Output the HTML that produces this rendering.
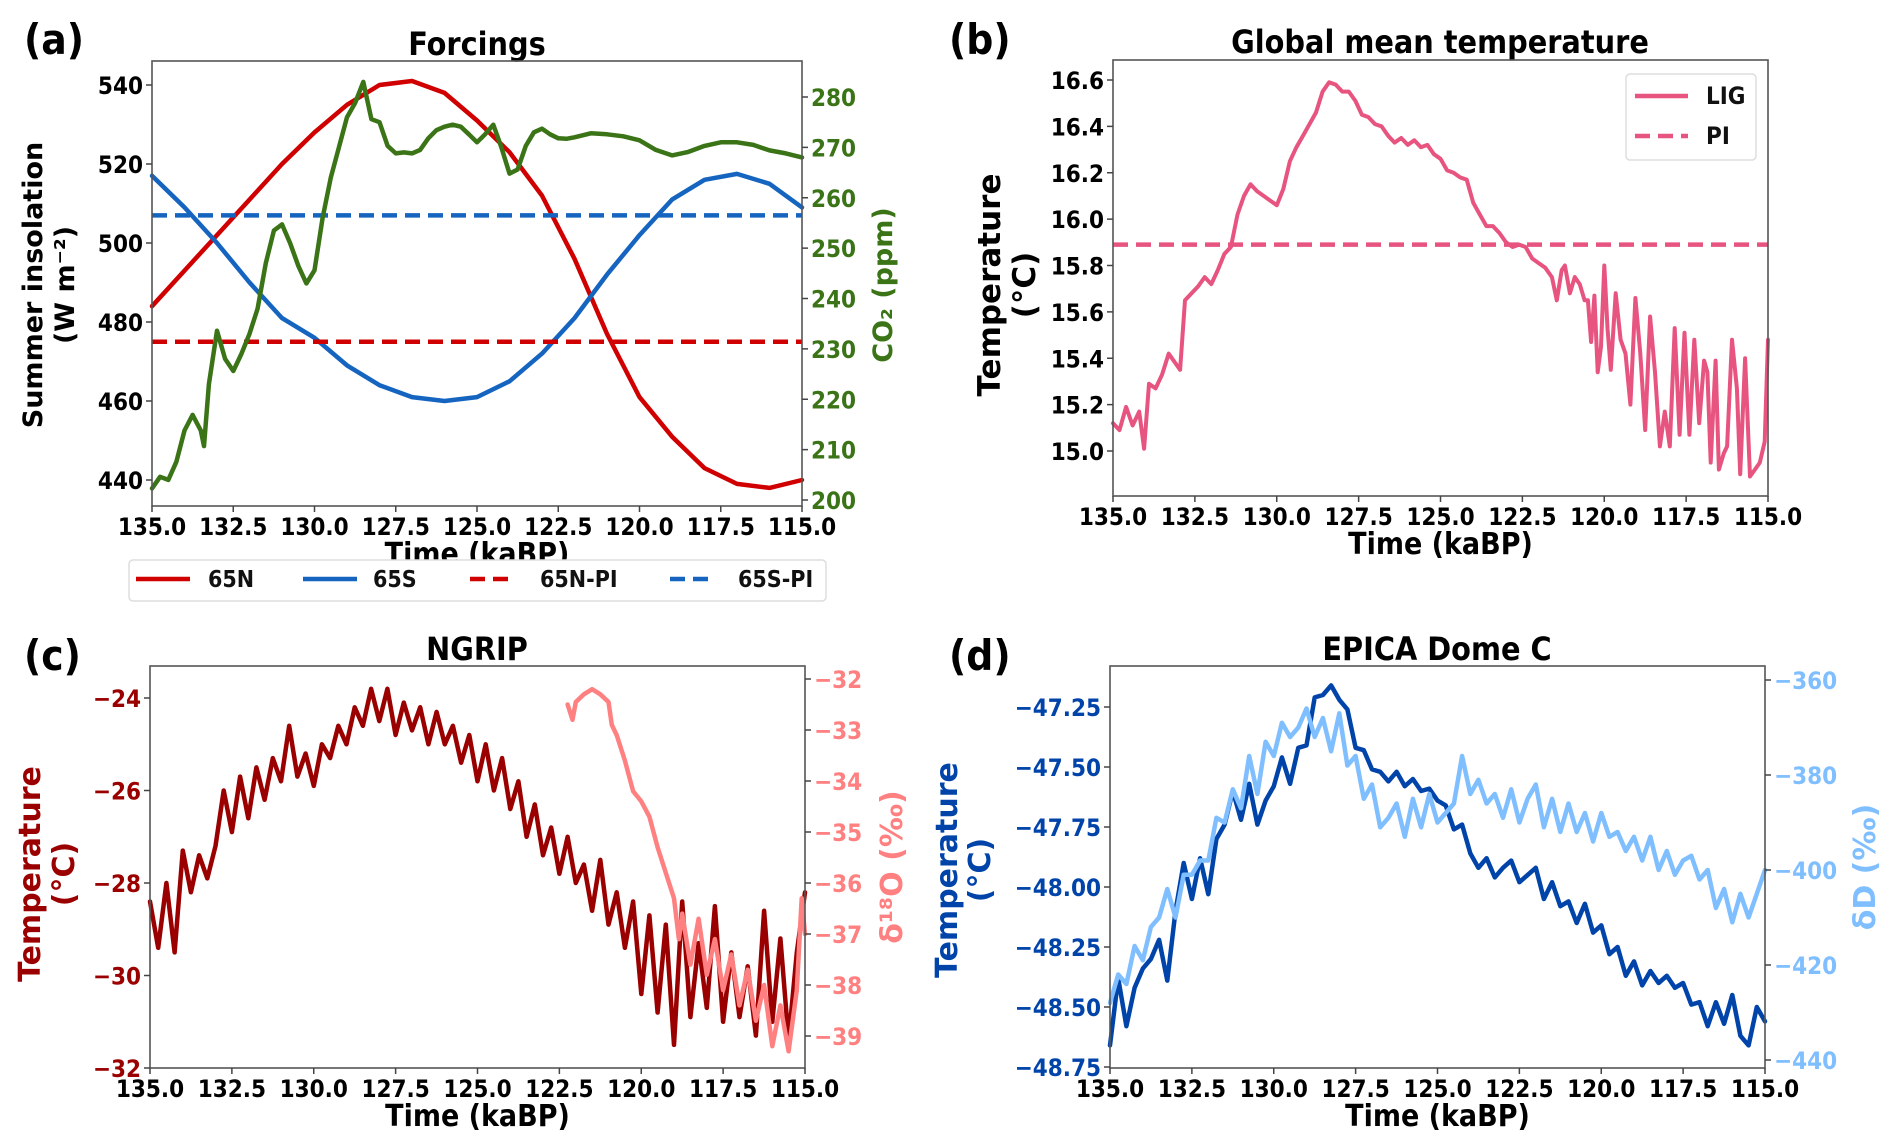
<!DOCTYPE html>
<html><head><meta charset="utf-8">
<style>
html,body{margin:0;padding:0;background:#fff;}
svg{display:block;}
text{font-family:"DejaVu Sans Condensed","DejaVu Sans","Liberation Sans",sans-serif;font-weight:bold;}
.wide{font-family:"DejaVu Sans","Liberation Sans",sans-serif;font-weight:bold;}
</style></head>
<body>
<svg id="chart" width="1892" height="1148" viewBox="0 0 1892 1148" xmlns="http://www.w3.org/2000/svg"></svg>
<script>
// ---------- data ----------
const xTicks = [135.0, 132.5, 130.0, 127.5, 125.0, 122.5, 120.0, 117.5, 115.0];

const insTime = [135,134,133,132,131,130,129,128,127,126,125,124,123,122,121,120,119,118,117,116,115];
const ins65N = [484,493,502,511,520,528,535,540,541,538,531,523,512,496,477,461,451,443,439,438,440];
const ins65S = [517,509,500,490,481,476,469,464,461,460,461,465,472,481,492,502,511,516,517.5,515,509];
const ins65NPI = 475;
const ins65SPI = 507;
const insTicks = [440,460,480,500,520,540];
const co2Ticks = [200,210,220,230,240,250,260,270,280];
const co2Time = [135,134.75,134.5,134.25,134,133.75,133.5,133.4,133.25,133,132.75,132.5,132.25,132,131.75,131.5,131.25,131,130.75,130.5,130.25,130,129.75,129.5,129.25,129,128.75,128.5,128.25,128,127.75,127.5,127.25,127,126.75,126.5,126.25,126,125.75,125.5,125.25,125,124.75,124.5,124.25,124,123.75,123.5,123.25,123,122.75,122.5,122.25,122,121.5,121,120.5,120,119.5,119,118.5,118,117.5,117,116.5,116,115.5,115];
const co2Val = [202.3,204.6,204,207.6,213.8,216.9,213.8,210.7,223,233.6,228,225.6,229,233,238,247,253.5,254.7,251,246.5,243,245.6,256,264,270,276,278.8,283,275.6,275,270.3,268.8,269,268.8,269.5,271.8,273.4,274.1,274.5,274.1,272.6,271,272.6,274.5,270,264.8,265.6,270.3,273,273.7,272.6,271.8,271.7,272,272.8,272.6,272.2,271.4,269.5,268.4,269.1,270.3,271,271,270.5,269.4,268.8,268];

const gmtTicks = [15.0,15.2,15.4,15.6,15.8,16.0,16.2,16.4,16.6];
const gmtPI = 15.89;
const gmtTime = [135,134.8,134.6,134.4,134.2,134.05,133.9,133.7,133.5,133.3,133.1,132.95,132.8,132.6,132.4,132.2,132,131.8,131.6,131.4,131.2,131,130.8,130.6,130.4,130.2,130,129.8,129.6,129.4,129.2,129,128.8,128.6,128.4,128.2,128,127.8,127.6,127.4,127.2,127,126.8,126.6,126.4,126.2,126,125.8,125.6,125.4,125.2,125,124.8,124.6,124.4,124.2,124,123.8,123.6,123.4,123.2,123,122.8,122.6,122.4,122.2,122,121.8,121.6,121.45,121.3,121.2,121.05,120.9,120.75,120.6,120.5,120.4,120.3,120.2,120.1,120,119.9,119.8,119.65,119.5,119.35,119.2,119.05,118.9,118.75,118.6,118.45,118.3,118.15,118,117.85,117.7,117.55,117.4,117.25,117.1,116.95,116.85,116.75,116.6,116.5,116.35,116.25,116.1,115.95,115.85,115.7,115.55,115.4,115.25,115.1,115];
const gmtLIG = [15.12,15.09,15.19,15.11,15.17,15.01,15.29,15.27,15.33,15.42,15.38,15.35,15.65,15.68,15.71,15.75,15.72,15.78,15.85,15.88,16.02,16.10,16.15,16.12,16.10,16.08,16.06,16.13,16.25,16.31,16.36,16.41,16.46,16.55,16.59,16.58,16.55,16.55,16.51,16.45,16.44,16.41,16.40,16.36,16.33,16.35,16.32,16.34,16.31,16.32,16.28,16.26,16.21,16.20,16.18,16.17,16.07,16.02,15.97,15.97,15.94,15.90,15.88,15.89,15.88,15.83,15.81,15.79,15.75,15.65,15.78,15.80,15.68,15.75,15.72,15.65,15.65,15.47,15.67,15.34,15.45,15.80,15.53,15.35,15.68,15.48,15.42,15.20,15.66,15.42,15.09,15.58,15.34,15.02,15.17,15.02,15.53,15.07,15.51,15.07,15.48,15.12,15.39,15.34,14.95,15.39,14.92,14.99,15.02,15.48,15.27,14.90,15.40,14.89,14.92,14.95,15.04,15.48];

const ngTempTicks = [-32,-30,-28,-26,-24];
const ngIsoTicks = [-39,-38,-37,-36,-35,-34,-33,-32];
const ngTime = [135,134.75,134.5,134.25,134,133.75,133.5,133.25,133,132.75,132.5,132.25,132,131.75,131.5,131.25,131,130.75,130.5,130.25,130,129.75,129.5,129.25,129,128.75,128.5,128.25,128,127.75,127.5,127.25,127,126.75,126.5,126.25,126,125.75,125.5,125.25,125,124.75,124.5,124.25,124,123.75,123.5,123.25,123,122.75,122.5,122.25,122,121.75,121.5,121.25,121,120.75,120.5,120.25,120,119.75,119.5,119.25,119,118.75,118.5,118.25,118,117.75,117.5,117.25,117,116.75,116.5,116.25,116,115.75,115.5,115.25,115];
const ngTemp = [-28.4,-29.4,-28.0,-29.5,-27.3,-28.2,-27.4,-27.9,-27.2,-26.0,-26.9,-25.7,-26.6,-25.5,-26.2,-25.3,-25.8,-24.6,-25.7,-25.2,-25.9,-25.0,-25.3,-24.6,-25.0,-24.2,-24.6,-23.8,-24.5,-23.8,-24.8,-24.1,-24.7,-24.2,-25.0,-24.3,-25.0,-24.6,-25.4,-24.8,-25.8,-25.0,-26.0,-25.3,-26.4,-25.8,-27.0,-26.3,-27.4,-26.8,-27.8,-27.0,-28.0,-27.6,-28.6,-27.5,-28.9,-28.2,-29.4,-28.4,-30.4,-28.7,-30.8,-28.9,-31.5,-28.4,-30.9,-29.3,-30.7,-28.5,-31.0,-29.5,-30.9,-29.8,-31.3,-28.6,-31.0,-29.2,-31.4,-29.5,-28.2];
const isoTime = [122.25,122.1,122,121.75,121.5,121.25,121,120.9,120.75,120.5,120.25,120,119.75,119.5,119.25,119,118.85,118.75,118.5,118.25,118,117.75,117.5,117.25,117,116.75,116.5,116.25,116,115.75,115.5,115.25,115.1,115];
const isoVal = [-32.5,-32.8,-32.45,-32.3,-32.2,-32.3,-32.45,-32.9,-33.1,-33.6,-34.2,-34.4,-34.7,-35.3,-35.8,-36.3,-37.1,-36.6,-37.6,-36.7,-37.8,-37.1,-38.1,-37.4,-38.4,-37.7,-38.7,-38.0,-39.2,-38.4,-39.3,-38.1,-36.3,-37.0];

const edTempTicks = [-48.75,-48.50,-48.25,-48.00,-47.75,-47.50,-47.25];
const edDTicks = [-440,-420,-400,-380,-360];
const edTime = [135,134.75,134.5,134.25,134,133.75,133.5,133.25,133,132.75,132.5,132.25,132,131.75,131.5,131.25,131,130.75,130.5,130.25,130,129.75,129.5,129.25,129,128.75,128.5,128.25,128,127.75,127.5,127.25,127,126.75,126.5,126.25,126,125.75,125.5,125.25,125,124.75,124.5,124.25,124,123.75,123.5,123.25,123,122.75,122.5,122.25,122,121.75,121.5,121.25,121,120.75,120.5,120.25,120,119.75,119.5,119.25,119,118.75,118.5,118.25,118,117.75,117.5,117.25,117,116.75,116.5,116.25,116,115.75,115.5,115.25,115];
const edTemp = [-48.66,-48.38,-48.58,-48.42,-48.34,-48.30,-48.22,-48.39,-48.10,-47.90,-48.05,-47.88,-48.03,-47.80,-47.74,-47.60,-47.72,-47.57,-47.74,-47.64,-47.58,-47.46,-47.57,-47.42,-47.41,-47.21,-47.20,-47.16,-47.22,-47.26,-47.42,-47.43,-47.51,-47.52,-47.56,-47.52,-47.58,-47.55,-47.60,-47.59,-47.64,-47.66,-47.76,-47.74,-47.86,-47.92,-47.88,-47.96,-47.92,-47.89,-47.98,-47.95,-47.92,-48.05,-47.98,-48.08,-48.06,-48.15,-48.07,-48.19,-48.16,-48.28,-48.25,-48.37,-48.31,-48.41,-48.35,-48.40,-48.37,-48.42,-48.40,-48.49,-48.48,-48.58,-48.48,-48.57,-48.45,-48.62,-48.66,-48.50,-48.56];
const edD = [-428,-422,-424,-416,-419,-412,-410,-404,-410,-401,-401,-398,-398,-389,-390,-383,-387,-376,-384,-373,-376,-369,-372,-370,-366,-372,-368,-375,-367,-378,-376,-385,-382,-391,-389,-386,-393,-385,-391,-384,-390,-388,-386,-376,-384,-381,-386,-384,-389,-383,-390,-385,-382,-391,-385,-392,-386,-392,-388,-394,-388,-393,-392,-396,-393,-398,-393,-400,-396,-401,-398,-397,-402,-400,-408,-404,-411,-405,-410,-405,-400];

// ---------- drawing helpers ----------
const NS = 'http://www.w3.org/2000/svg';
const svg = document.getElementById('chart');
function mk(tag, parent) { const e = document.createElementNS(NS, tag); parent.appendChild(e); return e; }
function txt(parent, x, y, s, size, fill, anchor, cls) {
  const t = mk('text', parent);
  t.setAttribute('x', x); t.setAttribute('y', y);
  t.setAttribute('font-size', size); t.setAttribute('fill', fill);
  t.setAttribute('text-anchor', anchor || 'start');
  if (cls) t.setAttribute('class', cls);
  t.textContent = s;
  return t;
}
function line(parent, x1, y1, x2, y2, stroke, w, dash) {
  const l = mk('line', parent);
  l.setAttribute('x1', x1); l.setAttribute('y1', y1); l.setAttribute('x2', x2); l.setAttribute('y2', y2);
  l.setAttribute('stroke', stroke); l.setAttribute('stroke-width', w);
  if (dash) l.setAttribute('stroke-dasharray', dash);
  return l;
}
function path(parent, xs, ys, xf, yf, stroke, w) {
  const p = mk('path', parent);
  let d = '';
  for (let i = 0; i < xs.length; i++) d += (i ? 'L' : 'M') + xf(xs[i]).toFixed(1) + ',' + yf(ys[i]).toFixed(1);
  p.setAttribute('d', d); p.setAttribute('fill', 'none'); p.setAttribute('stroke', stroke);
  p.setAttribute('stroke-width', w); p.setAttribute('stroke-linejoin', 'round'); p.setAttribute('stroke-linecap', 'round');
  return p;
}
function frame(g, L, R, T, B) {
  const r = mk('rect', g);
  r.setAttribute('x', L); r.setAttribute('y', T); r.setAttribute('width', R - L); r.setAttribute('height', B - T);
  r.setAttribute('fill', 'none'); r.setAttribute('stroke', '#555'); r.setAttribute('stroke-width', 1.6);
  
  
}
function xAxis(g, L, R, B, xf) {
  const ax = mk('g', g);
  
  
  xTicks.forEach(t => {
    line(ax, xf(t), B, xf(t), B + 6, '#444', 1.5);
    const lb = txt(ax, xf(t), B + 29, t.toFixed(1), 24, '#000', 'middle');
    
    
  });
  const tt = txt(ax, (L + R) / 2, B + 58, 'Time (kaBP)', 30, '#000', 'middle');
  
  
}
function yAxisLeft(g, L, ticks, yf, fmt, color) {
  const ax = mk('g', g);
  
  
  ticks.forEach(t => {
    line(ax, L - 6, yf(t), L, yf(t), '#444', 1.5);
    const lb = txt(ax, L - 9, yf(t) + 9, fmt(t), 24, color, 'end');
    
    
  });
}
function yAxisRight(g, R, ticks, yf, fmt, color) {
  const ax = mk('g', g);
  
  
  ticks.forEach(t => {
    line(ax, R, yf(t), R + 6, yf(t), '#444', 1.5);
    const lb = txt(ax, R + 9, yf(t) + 9, fmt(t), 24, color, 'start');
    
    
  });
}
function vlabel(parent, x, y, s, size, fill, cls) {
  const t = txt(parent, 0, 0, s, size, fill, 'middle', cls);
  t.setAttribute('transform', 'translate(' + x + ',' + y + ') rotate(-90)');
  return t;
}
const neg = v => (v < 0 ? '\u2212' + Math.abs(v) : String(v));

// ---------- panel (a) ----------
{
  const g = mk('g', svg);
  
  
  const L = 152, R = 802, T = 61, B = 506;
  const xf = t => L + (135 - t) / 20 * (R - L);
  const yf = v => 85 + (540 - v) * (480 - 85) / 100;
  const yc = v => 97 + (280 - v) * (500 - 97) / 80;
  const pl = txt(g, 24, 54, '(a)', 42, '#000', 'start');  
  const ti = txt(g, 477, 55, 'Forcings', 32, '#000', 'middle');  
  const s1 = path(g, insTime, ins65N, xf, yf, '#d00000', 4.5);  
  const s2 = path(g, insTime, ins65S, xf, yf, '#1565c0', 4.5);  
  const s3 = line(g, L, yf(ins65NPI), R, yf(ins65NPI), '#d00000', 4.5, '15,8');  
  const s4 = line(g, L, yf(ins65SPI), R, yf(ins65SPI), '#1565c0', 4.5, '15,8');  
  const s5 = path(g, co2Time, co2Val, xf, yc, '#3a7417', 4.5);  
  frame(g, L, R, T, B);
  xAxis(g, L, R, B, xf);
  yAxisLeft(g, L, insTicks, yf, v => String(v), '#000');
  yAxisRight(g, R, co2Ticks, yc, v => String(v), '#3a7417');
  const yl = vlabel(g, 42, 285, 'Summer insolation', 27, '#000', 'wide');  
  const yl2 = vlabel(g, 74, 285, '(W m\u207B\u00B2)', 27, '#000', 'wide');  
  const yr = vlabel(g, 892, 285, 'CO\u2082 (ppm)', 27, '#3a7417', 'wide');  
  // legend
  const lg = mk('g', g);
  
  
  const box = mk('rect', lg);
  box.setAttribute('x', 129); box.setAttribute('y', 560); box.setAttribute('width', 697); box.setAttribute('height', 41);
  box.setAttribute('rx', 4); box.setAttribute('fill', '#fff'); box.setAttribute('stroke', '#ddd'); box.setAttribute('stroke-width', 1.5);
  const entries = [['65N','#d00000',null,136,190,208],['65S','#1565c0',null,303,357,373],['65N-PI','#d00000','15,8',470,515,540],['65S-PI','#1565c0','15,8',670,713,738]];
  entries.forEach(e => {
    const eg = mk('g', lg);
    
    
    line(eg, e[3], 579, e[4], 579, e[1], 4.5, e[2]);
    const t = txt(eg, e[5], 587, e[0], 23, '#111', 'start');
    t.setAttribute('font-weight', 'normal');
  });
}

// ---------- panel (b) ----------
{
  const g = mk('g', svg);
  
  
  const L = 1113, R = 1768, T = 60, B = 496;
  const xf = t => L + (135 - t) / 20 * (R - L);
  const yf = v => 80 + (16.6 - v) * (451 - 80) / 1.6;
  const pl = txt(g, 949, 54, '(b)', 42, '#000', 'start');  
  const ti = txt(g, 1440, 53, 'Global mean temperature', 32, '#000', 'middle');  
  const s1 = path(g, gmtTime, gmtLIG, xf, yf, '#e75480', 4);  
  const s2 = line(g, L, yf(gmtPI), R, yf(gmtPI), '#e75480', 4.5, '15,8');  
  frame(g, L, R, T, B);
  xAxis(g, L, R, B, xf);
  yAxisLeft(g, L, gmtTicks, yf, v => v.toFixed(1), '#000');
  const yl = vlabel(g, 1000, 285, 'Temperature', 31, '#000', 'wide');  
  const yl2 = vlabel(g, 1035, 285, '(\u00B0C)', 31, '#000', 'wide');  
  const lg = mk('g', g);
  
  
  const box = mk('rect', lg);
  box.setAttribute('x', 1626); box.setAttribute('y', 74); box.setAttribute('width', 130); box.setAttribute('height', 86);
  box.setAttribute('rx', 4); box.setAttribute('fill', '#fff'); box.setAttribute('stroke', '#ddd'); box.setAttribute('stroke-width', 1.5);
  const e1 = mk('g', lg);  
  line(e1, 1635, 96, 1688, 96, '#e75480', 4.5);
  const t1 = txt(e1, 1706, 104, 'LIG', 24, '#111'); t1.setAttribute('font-weight', 'normal');
  const e2 = mk('g', lg);  
  line(e2, 1635, 136, 1688, 136, '#e75480', 4.5, '15,8');
  const t2 = txt(e2, 1706, 144, 'PI', 24, '#111'); t2.setAttribute('font-weight', 'normal');
}

// ---------- panel (c) ----------
{
  const g = mk('g', svg);
  
  
  const L = 150, R = 805, T = 666, B = 1068;
  const xf = t => L + (135 - t) / 20 * (R - L);
  const yf = v => 698 + (-24 - v) * (1068 - 698) / 8;
  const yr = v => 679 + (-32 - v) * (1036 - 679) / 7;
  const pl = txt(g, 24, 670, '(c)', 42, '#000', 'start');  
  const ti = txt(g, 477, 660, 'NGRIP', 32, '#000', 'middle');  
  const s1 = path(g, ngTime, ngTemp, xf, yf, '#9b0000', 4.5);  
  const s2 = path(g, isoTime, isoVal, xf, yr, '#ff8080', 4.5);  
  frame(g, L, R, T, B);
  xAxis(g, L, R, B, xf);
  yAxisLeft(g, L, ngTempTicks, yf, neg, '#9b0000');
  yAxisRight(g, R, ngIsoTicks, yr, neg, '#ff8080');
  const yl = vlabel(g, 40, 874, 'Temperature', 30, '#9b0000', 'wide');  
  const yl2 = vlabel(g, 74, 874, '(\u00B0C)', 30, '#9b0000', 'wide');  
  const yr2 = vlabel(g, 902, 867, '\u03B4\u00B9\u2078O (\u2030)', 30, '#ff8080', 'wide');  
}

// ---------- panel (d) ----------
{
  const g = mk('g', svg);
  
  
  const L = 1110, R = 1765, T = 666, B = 1068;
  const xf = t => L + (135 - t) / 20 * (R - L);
  const yf = v => 707 + (-47.25 - v) * (1067 - 707) / 1.5;
  const yr = v => 680 + (-360 - v) * (1060 - 680) / 80;
  const pl = txt(g, 949, 670, '(d)', 42, '#000', 'start');  
  const ti = txt(g, 1437, 660, 'EPICA Dome C', 32, '#000', 'middle');  
  const s1 = path(g, edTime, edTemp, xf, yf, '#0044aa', 4.5);  
  const s2 = path(g, edTime, edD, xf, yr, '#80bfff', 4.5);  
  frame(g, L, R, T, B);
  xAxis(g, L, R, B, xf);
  yAxisLeft(g, L, edTempTicks, yf, v => neg(v).replace(/(\.\d)$/, '$10').replace(/^(\u2212\d+)$/, '$1.00'), '#0044aa');
  yAxisRight(g, R, edDTicks, yr, neg, '#80bfff');
  const yl = vlabel(g, 957, 870, 'Temperature', 30, '#0044aa', 'wide');  
  const yl2 = vlabel(g, 990, 870, '(\u00B0C)', 30, '#0044aa', 'wide');  
  const yr2 = vlabel(g, 1875, 867, '\u03B4D (\u2030)', 30, '#80bfff', 'wide');  
}
</script>
</body></html>
